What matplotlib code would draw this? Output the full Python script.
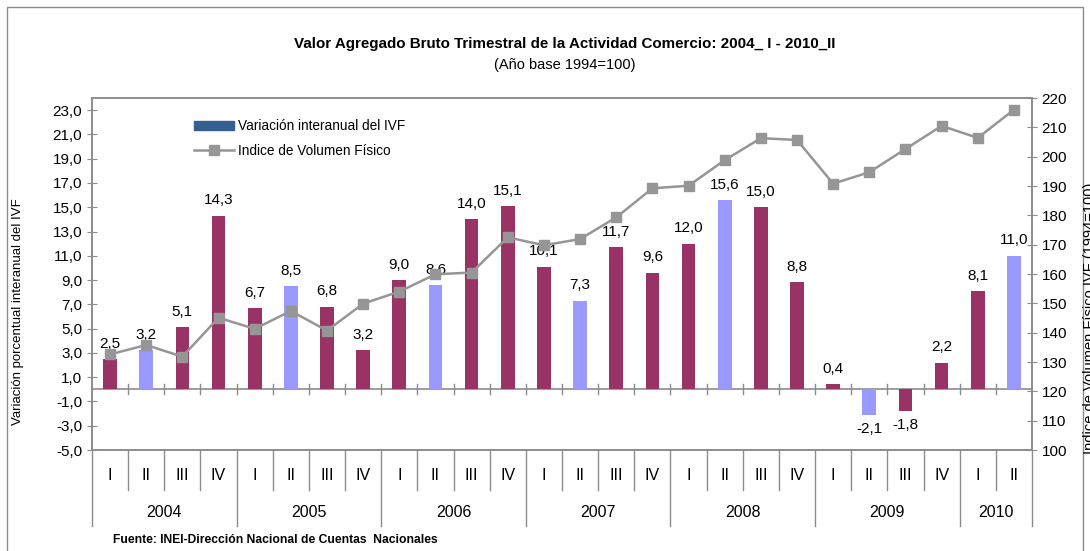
import matplotlib
matplotlib.use("Agg")
import matplotlib.pyplot as plt
from matplotlib.patches import Patch, Rectangle
from matplotlib.lines import Line2D
from matplotlib.ticker import FuncFormatter

plt.rcParams['font.family'] = ['Liberation Sans', 'DejaVu Sans']

# datos
years = ['2004', '2005', '2006', '2007', '2008', '2009', '2010']
quarters = ['I', 'II', 'III', 'IV'] * 6 + ['I', 'II']
variacion = [2.5, 3.2, 5.1, 14.3, 6.7, 8.5, 6.8, 3.2, 9.0, 8.6, 14.0, 15.1, 10.1, 7.3,
             11.7, 9.6, 12.0, 15.6, 15.0, 8.8, 0.4, -2.1, -1.8, 2.2, 8.1, 11.0]
ivf = [132.6, 135.8, 131.8, 145.1, 141.3, 147.4, 140.7, 149.9, 154.0, 159.9, 160.5, 172.5,
       169.8, 171.9, 179.3, 189.2, 190.1, 198.8, 206.3, 205.7, 190.8, 194.7, 202.6, 210.5,
       206.4, 216.0]

maroon = '#993366'
lilac = '#9999FF'
gray = '#969696'
spine = '#8C8C8C'

fig = plt.figure(figsize=(10.9, 5.51), dpi=100)
ax = fig.add_axes([92 / 1090, 1 - 450 / 551, 940 / 1090, 352 / 551])
ax2 = ax.twinx()

x = list(range(len(variacion)))
colors = [lilac if q == 'II' else maroon for q in quarters]
ax.bar(x, variacion, width=0.38, color=colors, zorder=2)

for xi, v in zip(x, variacion):
    lbl = f'{v:.1f}'.replace('.', ',')
    if v >= 0:
        ax.annotate(lbl, (xi, v), xytext=(0, 6), textcoords='offset points',
                    ha='center', va='bottom', fontsize=11)
    else:
        ax.annotate(lbl, (xi, v), xytext=(0, -5), textcoords='offset points',
                    ha='center', va='top', fontsize=11)

ax.axhline(0, color=spine, lw=1.2, zorder=1)
ax.set_xlim(-0.5, len(x) - 0.5)
ax.set_ylim(-5, 24)
ax.set_yticks([-5 + 2 * i for i in range(15)])
ax.yaxis.set_major_formatter(FuncFormatter(lambda v, p: f'{v:.1f}'.replace('.', ',')))
ax.tick_params(axis='y', direction='inout', length=7, color=spine, labelsize=11)

# ticks sobre la linea de cero
for b in range(len(x) - 1):
    ax.plot([b + 0.5, b + 0.5], [-0.4, 0.4], color=spine, lw=1, zorder=1)

ax2.plot(x, ivf, color=gray, lw=1.8, marker='s', markersize=7.5, zorder=3)
ax2.set_ylim(100, 220)
ax2.set_yticks(range(100, 221, 10))
ax2.tick_params(axis='y', direction='inout', length=7, color=spine, labelsize=11)

for a in (ax, ax2):
    for s in a.spines.values():
        s.set_color(spine)
        s.set_linewidth(1.2)
ax.set_xticks([])

# eje x de dos niveles
tr = ax.get_xaxis_transform()
for b in range(len(x) + 1):
    pos = b - 0.5
    is_year = (b % 4 == 0) or b == len(x)
    y_end = -0.215 if is_year else -0.115
    ax.plot([pos, pos], [0, y_end], transform=tr, color=spine, lw=1, clip_on=False)
for xi, q in zip(x, quarters):
    ax.text(xi, -0.072, q, transform=tr, ha='center', va='center', fontsize=11.5)
for i, yr in enumerate(years):
    start = i * 4
    end = min(start + 3, len(x) - 1)
    ax.text((start + end) / 2, -0.178, yr, transform=tr, ha='center', va='center', fontsize=11.5)

handles = [Patch(color='#335F91'),
           Line2D([], [], color=gray, lw=1.8, marker='s', markersize=7.5)]
ax.legend(handles, ['Variación interanual del IVF', 'Indice de Volumen Físico'],
          loc='upper left', bbox_to_anchor=(0.095, 0.975), frameon=False, fontsize=9.8,
          handlelength=3.0, handleheight=0.65, labelspacing=0.8, handletextpad=0.3)

fig.text(18 / 1090, 1 - 312 / 551, 'Variación porcentual interanual del IVF', rotation=90,
         ha='center', va='center', fontsize=9.5)
fig.text(565 / 1090, 1 - 44 / 551, 'Valor Agregado Bruto Trimestral de la Actividad Comercio: 2004_ I - 2010_II',
         ha='center', va='center', fontsize=10.9, fontweight='bold')
fig.text(565 / 1090, 1 - 65 / 551, '(Año base 1994=100)', ha='center', va='center', fontsize=10.5)
fig.text(113 / 1090, 1 - 540 / 551, 'Fuente: INEI-Dirección Nacional de Cuentas  Nacionales',
         ha='left', va='center', fontsize=8.7, fontweight='bold')
fig.text(1083 / 1090, 1 - 318 / 551, 'Indice de Volumen Físico IVF (1994=100)', rotation=90,
         ha='left', va='center', fontsize=10.5)

fig.patches.append(Rectangle((7 / 1090, -0.05), 1076 / 1090, 1 - 7 / 551 + 0.05,
                             transform=fig.transFigure, fill=False, edgecolor=spine, lw=1))

fig.savefig('out.png', dpi=100)
